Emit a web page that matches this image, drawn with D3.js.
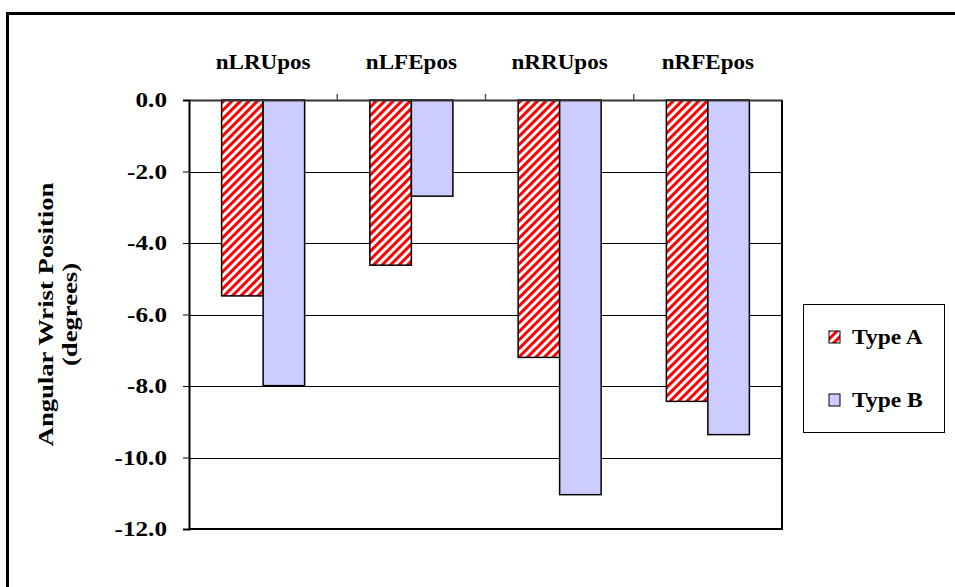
<!DOCTYPE html>
<html><head><meta charset="utf-8">
<script src="https://cdn.jsdelivr.net/npm/d3@7"></script>
<style>body{margin:0;background:#fff}svg{display:block}text{font-family:"Liberation Serif","Times New Roman",serif;font-weight:bold;fill:#000}</style>
</head><body>
<svg id="c" width="955" height="587"></svg>
<script>
const categories = ["nLRUpos","nLFEpos","nRRUpos","nRFEpos"];
const seriesNames = ["Type A","Type B"];
const typeA = [-5.48,-4.62,-7.2,-8.43];
const typeB = [-7.99,-2.69,-11.04,-9.36];
const yTicks = [0,-2,-4,-6,-8,-10,-12];
const yTitle = ["Angular Wrist Position","(degrees)"];

const FS = 21;
const svg = d3.select("#c");
const defs = svg.append("defs");
const pat = defs.append("pattern").attr("id","hatch").attr("patternUnits","userSpaceOnUse")
  .attr("width",6).attr("height",6).attr("patternTransform","rotate(45)");
pat.append("rect").attr("width",6).attr("height",6).attr("fill","#fff");
pat.append("rect").attr("x",0).attr("y",0).attr("width",3).attr("height",6).attr("fill","#ff0000");

// outer border
svg.append("rect").attr("x",7.5).attr("y",13.5).attr("width",1000).attr("height",1000)
  .attr("fill","none").attr("stroke","#000").attr("stroke-width",3);

const L=189, R=782, T=100, B=529;
const x = d3.scaleBand().domain(categories).range([L,R]);
const y = d3.scaleLinear().domain([0,-12]).range([T,B]);
const barW = x.bandwidth()*0.28;
const fills = ["url(#hatch)","#ccccff"];
const series = [typeA,typeB];

// gridlines
svg.append("g").selectAll("line").data(yTicks.filter(d=>d!==0 && d!==-12)).join("line")
  .attr("x1",L).attr("x2",R).attr("y1",d=>Math.round(y(d))+0.5).attr("y2",d=>Math.round(y(d))+0.5)
  .attr("stroke","#000").attr("stroke-width",1);

// y axis
const sTick = 1.2;
const ya = svg.append("g").attr("transform",`translate(${L},0)`)
  .call(d3.axisLeft(y).tickValues(yTicks).tickFormat(d=>d.toFixed(1)).tickSize(6));
ya.select(".domain").attr("stroke","#000").attr("stroke-width",2);
ya.selectAll(".tick line").attr("stroke","#000");
ya.selectAll(".tick text").attr("font-size",FS).attr("font-family","Liberation Serif").attr("font-weight","bold").attr("fill","#000")
  .attr("x",-22/sTick).attr("transform",`scale(${sTick},1)`);

// bars
series.forEach((vals,si)=>{
  svg.append("g").selectAll("rect").data(vals).join("rect")
    .attr("x",(d,i)=>x(categories[i])+x.bandwidth()/2 - barW + si*barW)
    .attr("y",y(0))
    .attr("width",barW)
    .attr("height",d=>y(d)-y(0))
    .attr("fill",fills[si]).attr("stroke","#000").attr("stroke-width",1.5);
});

// plot frame right and bottom
svg.append("line").attr("x1",R).attr("x2",R).attr("y1",T).attr("y2",B).attr("stroke","#000").attr("stroke-width",2);
svg.append("line").attr("x1",L).attr("x2",R+1).attr("y1",B).attr("y2",B).attr("stroke","#000").attr("stroke-width",2);

// x axis at top (value 0)
const xa = svg.append("g").attr("transform",`translate(0,${T})`)
  .call(d3.axisTop(x).tickValues([]).tickSizeOuter(0));
xa.select(".domain").attr("stroke","#333").attr("stroke-width",2);
svg.append("g").selectAll("line").data(categories.slice(1)).join("line")
  .attr("x1",d=>x(d)).attr("x2",d=>x(d)).attr("y1",T).attr("y2",T-6).attr("stroke","#555").attr("stroke-width",1.5);
const sCat = 1.1;
svg.append("g").selectAll("text").data(categories).join("text")
  .attr("transform",d=>`translate(${x(d)+x.bandwidth()/2},69) scale(${sCat},1)`)
  .attr("text-anchor","middle").attr("font-size",FS).text(d=>d);

// y title
const sTitle = 1.27;
const yt = svg.append("text").attr("transform",`translate(58,${(T+B)/2}) rotate(-90) scale(${sTitle},1)`).attr("text-anchor","middle").attr("font-size",FS);
yt.append("tspan").attr("x",0).attr("dy","-0.22em").text(yTitle[0]);
yt.append("tspan").attr("x",0).attr("dy","1.12em").text(yTitle[1]);

// legend
svg.append("rect").attr("x",803.5).attr("y",304.5).attr("width",141).attr("height",128)
  .attr("fill","#fff").attr("stroke","#000").attr("stroke-width",1);
const lg = svg.append("g").selectAll("g").data(seriesNames).join("g")
  .attr("transform",(d,i)=>`translate(829,${337+i*63})`);
lg.append("rect").attr("x",0).attr("y",-6).attr("width",11).attr("height",12).attr("fill",(d,i)=>fills[i]).attr("stroke","#000").attr("stroke-width",1);
lg.append("text").attr("transform","translate(23,0) scale(1.12,1)").attr("dy","0.35em").attr("font-size",FS).text(d=>d);
</script>
</body></html>
